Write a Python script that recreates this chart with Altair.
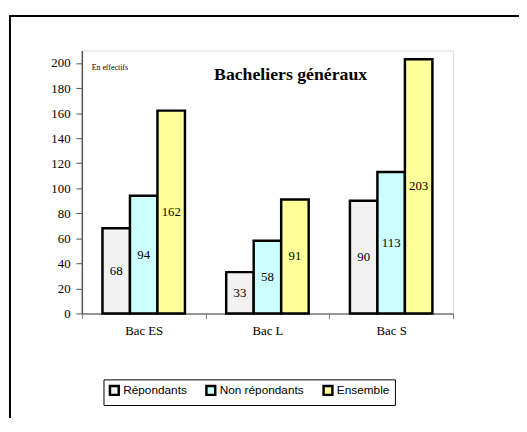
import altair as alt
import pandas as pd

categories = ["Bac ES", "Bac L", "Bac S"]
series = ["Répondants", "Non répondants", "Ensemble"]
repondants = [68, 33, 90]
non_repondants = [94, 58, 113]
ensemble = [162, 91, 203]
colors = ["#f2f2f2", "#ccffff", "#ffff99"]
y_ticks = [0, 20, 40, 60, 80, 100, 120, 140, 160, 180, 200]
title_text = "Bacheliers généraux"
note_text = "En effectifs"

rows = []
for i, c in enumerate(categories):
    for s, vals in zip(series, [repondants, non_repondants, ensemble]):
        rows.append({"cat": c, "serie": s, "val": vals[i]})
df = pd.DataFrame(rows)

W, H = 377, 267
PL, PT = 75, 40
PR = 519 - PL - W
PB = 103

x = alt.X("cat:N", sort=categories,
          scale=alt.Scale(paddingInner=0, paddingOuter=0),
          axis=alt.Axis(title=None, labelAngle=0, tickBand="extent",
                        labelFont="Liberation Serif", labelFontSize=13,
                        labelColor="black", labelPadding=6,
                        domainColor="#777777", tickColor="#777777",
                        tickSize=5, domainWidth=1.5))
xoff = alt.XOffset("serie:N", sort=series,
                   scale=alt.Scale(paddingInner=0, paddingOuter=0.75))
yscale = alt.Scale(domain=[0, 210], nice=False)
yaxis = alt.Axis(values=y_ticks, title=None, grid=False,
                 labelOverlap=False,
                 labelFont="Liberation Serif", labelFontSize=13,
                 labelColor="black", labelPadding=6,
                 domainColor="#555555", tickColor="#555555",
                 tickSize=6, domainWidth=1.5)
y = alt.Y("val:Q", scale=yscale, axis=yaxis)
color = alt.Color("serie:N", sort=series,
                  scale=alt.Scale(domain=series, range=colors),
                  legend=alt.Legend(orient="none", legendX=22, legendY=334,
                                    direction="horizontal", title=None,
                                    strokeColor="black", fillColor="white",
                                    padding=5, symbolType="square",
                                    symbolSize=80, symbolStrokeWidth=2.5,
                                    symbolStrokeColor="black",
                                    labelFont="Liberation Sans",
                                    labelFontSize=12, labelColor="black",
                                    columnPadding=14, labelOffset=3))

base = alt.Chart(df)
bars = base.mark_bar(stroke="black", strokeWidth=2.5).encode(
    x=x, xOffset=xoff, y=y, color=color)
labels = base.transform_calculate(mid="datum.val / 2").mark_text(
    font="Liberation Serif", fontSize=13, color="black", baseline="middle"
).encode(x=x, xOffset=xoff, y=alt.Y("mid:Q", scale=yscale, axis=yaxis),
         text="val:Q")

one = alt.Data(values=[{"t": title_text, "n": note_text}])
title = alt.Chart(one).mark_text(
    font="Liberation Serif", fontSize=18, fontWeight="bold",
    align="center", baseline="alphabetic", color="black"
).encode(x=alt.value(295 - 83), y=alt.value(78 - 48), text="t:N")
note = alt.Chart(one).mark_text(
    font="Liberation Serif", fontSize=8, align="left",
    baseline="middle", color="black"
).encode(x=alt.value(93 - 83), y=alt.value(66 - 48), text="n:N")

frame_left = alt.Chart(one).mark_rule(color="black", strokeWidth=2).encode(
    x=alt.value(10 - 83), y=alt.value(12 - 48), y2=alt.value(H + PB + 20))
frame_top = alt.Chart(one).mark_rule(color="black", strokeWidth=2).encode(
    x=alt.value(9 - 83), x2=alt.value(W + PR + 20), y=alt.value(13 - 48))

chart = alt.layer(bars, labels, title, note, frame_left, frame_top).resolve_scale(
    y="shared"
).properties(
    width=W, height=H,
    autosize=alt.AutoSizeParams(type="none"),
    padding={"left": PL, "top": PT, "right": PR, "bottom": PB},
).configure_view(stroke=None, strokeWidth=0).configure(background="white")

chart.save("out.html", embed_options={"renderer": "svg", "actions": False})
